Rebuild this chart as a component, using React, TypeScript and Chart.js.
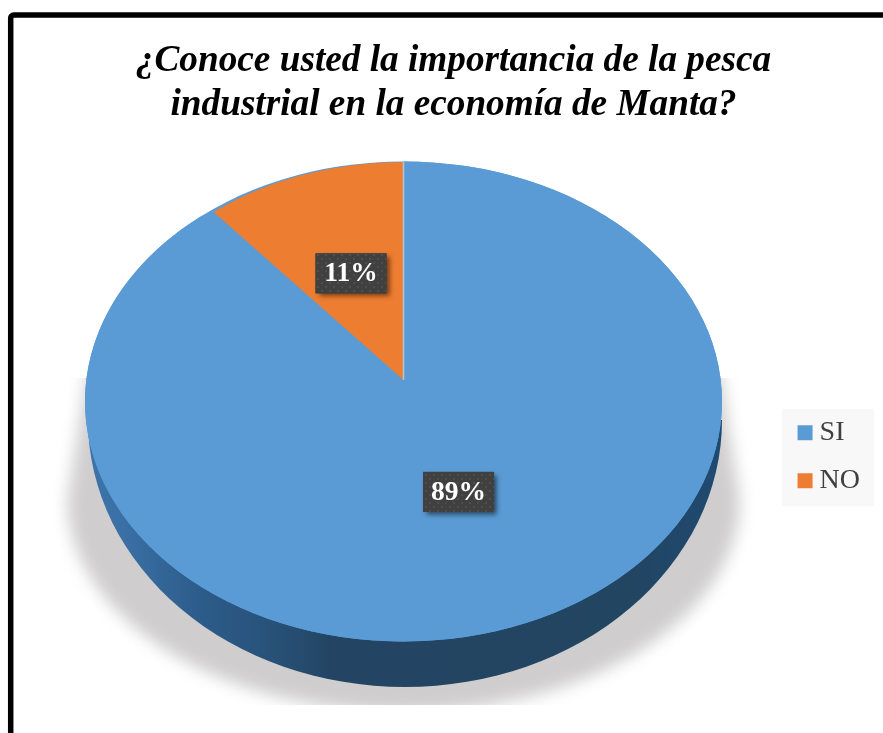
import React, { useEffect, useRef } from "react";
import { Chart, registerables } from "chart.js";

Chart.register(...registerables);

const titleLines = ["¿Conoce usted la importancia de la pesca", "industrial en la economía de Manta?"];
const categories = ["SI", "NO"];
const shares = [89, 11];
const sliceColors = ["#5B9BD5", "#ED7D31"];

const FONT = "'Liberation Serif', 'Times New Roman', serif";

// Face geometry: the reference's perspective puts each slice on its own ellipse
const faces = [
  { cx: 403.5, cy: 401.5, rx: 318.5, ry: 240, labelCy: 379, labelRx: 325, labelRy: 240, f: 0.5 },
  { cx: 403.5, cy: 380, rx: 298, ry: 218, labelCy: 380, labelRx: 298, labelRy: 218, f: 0.52 },
];
const wall = { cx: 405, cy: 420, rx: 317, ry: 267 };

const piePlugin = {
  id: "tiltedPie",
  beforeDraw(chart: any) {
    const ctx = chart.ctx;
    ctx.save();
    ctx.strokeStyle = "#000";
    ctx.lineWidth = 5.5;
    ctx.beginPath();
    ctx.roundRect(10.7, 15, 1000, 900, 3);
    ctx.stroke();
    ctx.fillStyle = "#f8f8f8";
    ctx.fillRect(782, 409, 92, 97);
    ctx.restore();
  },
  beforeDatasetsDraw(chart: any) {
    const ctx = chart.ctx;
    const meta = chart.getDatasetMeta(0);
    const top = faces[0];

    // ground shadow
    ctx.save();
    ctx.beginPath();
    ctx.rect(0, 378, chart.width, 327);
    ctx.clip();
    ctx.filter = "blur(8px)";
    ctx.fillStyle = "#cfcdcd";
    ctx.beginPath();
    ctx.moveTo(88, 370);
    ctx.lineTo(top.cx - 336, 500);
    ctx.ellipse(top.cx, 500, 336, 212, 0, Math.PI, 0, true);
    ctx.lineTo(720, 370);
    ctx.closePath();
    ctx.fill();
    ctx.restore();

    // side wall
    ctx.save();
    const g = ctx.createLinearGradient(top.cx - top.rx, 0, top.cx + top.rx, 0);
    g.addColorStop(0, "#3c74aa");
    g.addColorStop(0.06, "#3a70a5");
    g.addColorStop(0.18, "#2c5c8a");
    g.addColorStop(0.29, "#28527a");
    g.addColorStop(0.385, "#234563");
    g.addColorStop(0.85, "#224562");
    g.addColorStop(1, "#1f4a70");
    ctx.fillStyle = g;
    ctx.beginPath();
    ctx.ellipse(wall.cx, wall.cy, wall.rx, wall.ry, 0, 0, Math.PI);
    ctx.closePath();
    ctx.fill();
    ctx.restore();

    // face underlay, so the off-centre wedge has no gap
    ctx.save();
    ctx.fillStyle = sliceColors[0];
    ctx.beginPath();
    ctx.ellipse(top.cx, top.cy, top.rx, top.ry, 0, 0, Math.PI * 2);
    ctx.fill();
    ctx.restore();

    meta.data.forEach((arc: any, i: number) => {
      const face = faces[i];
      const R = arc.outerRadius;
      ctx.save();
      ctx.translate(face.cx, face.cy);
      ctx.scale(face.rx / R, face.ry / R);
      ctx.translate(-arc.x, -arc.y);
      arc.draw(ctx);
      ctx.restore();
    });

    // pale seam along the twelve o'clock edge
    ctx.save();
    ctx.strokeStyle = "#b4c3d3";
    ctx.lineWidth = 1.6;
    ctx.beginPath();
    ctx.moveTo(403.5, 380);
    ctx.lineTo(403.5, 162);
    ctx.stroke();
    ctx.restore();
    return false;
  },
  afterDraw(chart: any) {
    const ctx = chart.ctx;
    const meta = chart.getDatasetMeta(0);
    const tile = document.createElement("canvas");
    tile.width = 8;
    tile.height = 8;
    const t = tile.getContext("2d")!;
    t.fillStyle = "#404040";
    t.fillRect(0, 0, 8, 8);
    t.fillStyle = "#4e4e4e";
    t.fillRect(1, 2, 2, 2);
    t.fillRect(5, 6, 2, 2);

    meta.data.forEach((arc: any, i: number) => {
      const face = faces[i];
      const mid = (arc.startAngle + arc.endAngle) / 2;
      const x = face.cx + Math.cos(mid) * face.labelRx * face.f;
      const y = face.labelCy + Math.sin(mid) * face.labelRy * face.f;
      const w = 71;
      const h = 40;
      ctx.save();
      ctx.shadowColor = "rgba(0,0,0,0.55)";
      ctx.shadowBlur = 5;
      ctx.shadowOffsetX = 3;
      ctx.shadowOffsetY = 3;
      ctx.fillStyle = "#404040";
      ctx.fillRect(x - w / 2, y - h / 2, w, h);
      ctx.restore();
      ctx.save();
      ctx.fillStyle = ctx.createPattern(tile, "repeat");
      ctx.fillRect(x - w / 2, y - h / 2, w, h);
      ctx.fillStyle = "#fff";
      ctx.font = `bold 27.5px ${FONT}`;
      ctx.textAlign = "center";
      ctx.textBaseline = "middle";
      ctx.fillText(`${shares[i]}%`, x, y + 1);
      ctx.restore();
    });
  },
};

export default function App() {
  const ref = useRef<HTMLCanvasElement>(null);
  useEffect(() => {
    document.body.style.overflow = "hidden";
    const chart = new Chart(ref.current!, {
      type: "pie",
      data: {
        labels: categories,
        datasets: [{ data: shares, backgroundColor: sliceColors, borderWidth: 0 }],
      },
      options: {
        responsive: false,
        animation: false,
        layout: { padding: { left: 37, right: 13, top: 0, bottom: 0 } },
        plugins: {
          tooltip: { enabled: false },
          title: {
            display: true,
            text: titleLines,
            color: "#000",
            font: { family: FONT, size: 37.25, style: "italic", weight: "bold", lineHeight: 1.19 },
            padding: { top: 39, bottom: 53 },
          },
          legend: {
            position: "right",
            fullSize: false,
            labels: {
              font: { family: FONT, size: 28 },
              color: "#404040",
              boxWidth: 1,
              boxHeight: 1,
              padding: 20,
              generateLabels: () =>
                categories.map((text, i) => ({
                  text,
                  fillStyle: sliceColors[i],
                  strokeStyle: sliceColors[i],
                  lineWidth: 14,
                  hidden: false,
                  index: i,
                  fontColor: "#404040",
                })),
            },
          },
        },
      },
      plugins: [piePlugin],
    } as any);
    return () => chart.destroy();
  }, []);
  return (
    <canvas
      ref={ref}
      width={883}
      height={733}
      style={{ position: "fixed", left: 0, top: 0, width: 883, height: 733, display: "block" }}
    />
  );
}
